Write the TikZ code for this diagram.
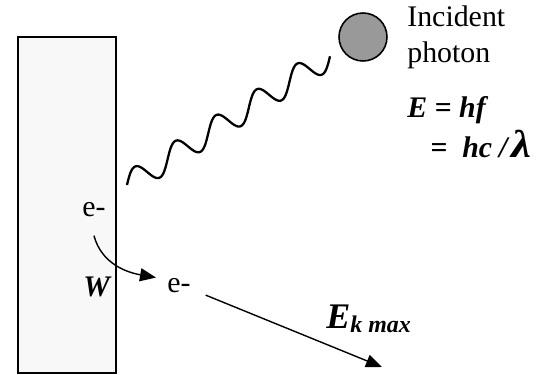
\documentclass[tikz,border=0pt]{standalone}
\usepackage{graphicx}
\usepackage{fontspec}
\setmainfont{Liberation Serif}
\usetikzlibrary{arrows.meta,positioning,calc}
\definecolor{platefill}{HTML}{F8F8F8}
\definecolor{photongray}{HTML}{999999}

\begin{document}
\begin{tikzpicture}[
    lbl/.style={font=\fontsize{17}{20}\selectfont, inner sep=0pt, anchor=base west},
    bilbl/.style={lbl, font=\fontsize{17}{20}\selectfont\bfseries\itshape},
    arr/.style={-{Triangle[length=0.32cm,width=0.26cm]}, line width=0.8pt}
]
    \useasboundingbox (0,0) rectangle (11.16,7.5);

    % Metal plate
    \draw[line width=1.1pt, fill=platefill] (0.36,0.04) rectangle (2.32,6.76);

    % Photon and its labels
    \node[circle, draw, line width=0.9pt, fill=photongray, minimum size=0.96cm, inner sep=0pt] (photon) at (7.26,6.76) {};
    \node[lbl] (incident) at (8.14,6.96) {Incident};
    \node[lbl] (photonlbl) at (8.14,6.24) {photon};
    \node[bilbl] (energy) at (8.14,5.14) {E = hf};
    \node[bilbl] (energy2) at (8.60,4.34) {=\hspace{0.3cm}hc\hspace{0.14cm}/\hspace{0.08cm}\scalebox{1.5}[1.3]{λ}};

    % Wave
    \coordinate (wstart) at (2.54,3.80);
    \draw[line width=1.3pt, shift={(wstart)}] plot[domain=0:4.81, samples=300, smooth]
        ({\x*0.8443 - 0.24*0.225*sin(\x*374.22)}, {\x*0.5358 + 0.24*0.974*sin(\x*374.22)});

    % Electrons
    \node[lbl] (eup) at (1.64,3.16) {e-};
    \node[bilbl] (work) at (1.66,1.56) {W};
    \node[lbl] (elow) at (3.34,1.64) {e-};
    \coordinate (ekend) at (7.64,0.16);
    \node[anchor=base west, inner sep=0pt] (ekmax) at (6.52,0.92)
        {\bfseries\itshape{\fontsize{20.5}{24}\selectfont E}\raisebox{-0.08cm}{\fontsize{13.6}{16}\selectfont k max}};

    % Arrows
    \draw[arr] ([yshift=-0.36cm]eup.south) to[out=-75, in=170] ([xshift=-0.22cm, yshift=0.02cm]elow.north west);
    \draw[arr, shorten <=0.32cm] ([yshift=-0.06cm]elow.east) -- (ekend);

\end{tikzpicture}
\end{document}
